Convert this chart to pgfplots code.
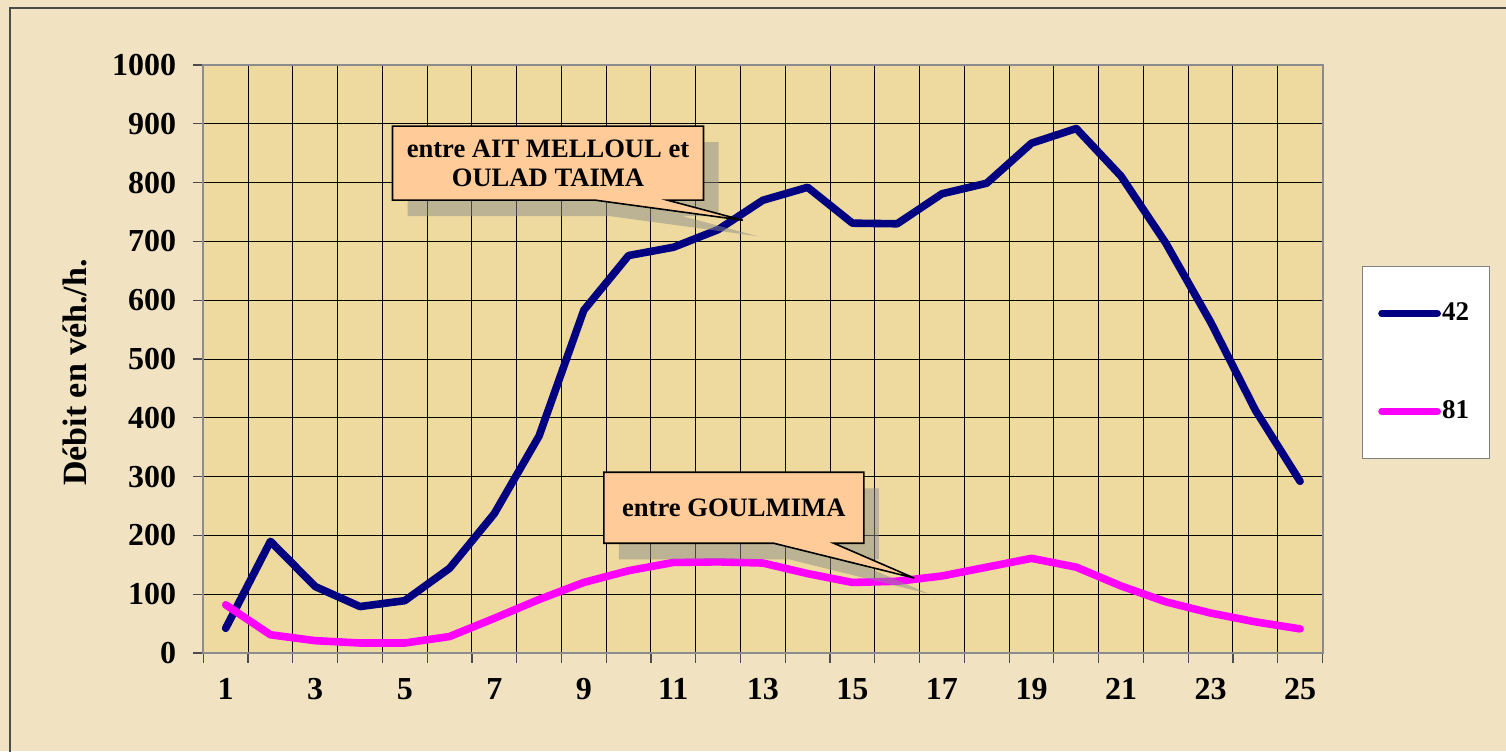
\documentclass[border=0pt]{standalone}
\usepackage{pgfplots}
\pgfplotsset{compat=1.18}
\usepackage{fontspec}
\setmainfont{Liberation Serif}
\usetikzlibrary{shapes.callouts,shadows}
\definecolor{outerbg}{RGB}{241,226,193}
\definecolor{plotbg}{RGB}{238,217,158}
\definecolor{navyline}{RGB}{0,0,128}
\definecolor{magline}{RGB}{255,0,255}
\definecolor{calloutfill}{RGB}{255,204,153}
\pgfplotstableread{
x y
1 42
2 190
3 113
4 79
5 89
6 144
7 237
8 369
9 583
10 676
11 690
12 720
13 770
14 792
15 731
16 730
17 781
18 799
19 867
20 892
21 811
22 697
23 563
24 413
25 292
}\seriesA
\pgfplotstableread{
x y
1 82
2 31
3 21
4 17
5 17
6 28
7 59
8 91
9 120
10 140
11 154
12 155
13 153
14 135
15 120
16 122
17 131
18 146
19 161
20 146
21 114
22 87
23 68
24 53
25 41
}\seriesB
\begin{document}
\begin{tikzpicture}
\path[use as bounding box] (0,0) rectangle (753pt,375.5pt);
\fill[outerbg] (0,0) rectangle (753pt,375.5pt);
\draw[black!70,line width=0.8pt] (5pt,-2pt) -- (5pt,371.5pt) -- (760pt,371.5pt);
\begin{axis}[
  at={(101.65pt,49pt)}, anchor=south west,
  width=559.6pt, height=294pt, scale only axis,
  xmin=0.5, xmax=25.5, ymin=0, ymax=1000,
  xtick={1,3,...,25},
  minor xtick={0.5,1.5,...,25.5},
  ytick={0,100,...,1000},
  tick pos=left,
  xminorgrids=true, ymajorgrids=true,
  grid style={black, line width=0.5pt},
  minor grid style={black, line width=0.5pt},
  tick align=outside,
  major tick length=5pt,
  minor tick length=5pt,
  major x tick style={draw=none},
  minor x tick style={draw=black!70, line width=0.6pt},
  y tick style={draw=black!70, line width=0.6pt},
  axis line style={draw=black!45, line width=1pt},
  axis background/.style={fill=plotbg},
  /pgf/number format/assume math mode=true,
  /pgf/number format/set thousands separator={},
  ticklabel style={font=\fontsize{16}{16}\selectfont\bfseries},
  xticklabel style={yshift=-4pt},
  yticklabel style={xshift=-5pt},
  ylabel={Débit en véh./h.},
  every axis y label/.style={at={(axis description cs:-0.1144,0.477)}, rotate=90, anchor=center, font=\fontsize{17}{17}\selectfont\bfseries},
  legend style={at={(axis description cs:1.0353,0.658)}, anchor=north west, draw=black!50, fill=white,
    inner xsep=8pt, inner ysep=16.25pt, row sep=34.5pt, font=\fontsize{13.5}{13.5}\selectfont\bfseries,
    legend cell align=left},
  legend image code/.code={\path (0pt,0pt) -- (26pt,0pt);\draw[#1,overlay,line cap=round] (0pt,0pt) -- (27.5pt,0pt);},
]
\addplot[navyline, line width=3.8pt, line join=round, line cap=round] table[x=x,y=y] {\seriesA};
\addlegendentry{42}
\addplot[magline, line width=3.8pt, line join=round, line cap=round] table[x=x,y=y] {\seriesB};
\addlegendentry{81}
\node[rectangle callout, draw=black, line width=0.8pt, fill=calloutfill,
  minimum width=155.5pt, minimum height=37pt, align=center, inner sep=2pt,
  font=\fontsize{13.3}{14.5}\selectfont\bfseries,
  callout absolute pointer={(axis cs:12.55,736)}, callout pointer width=36pt,
  drop shadow={shadow xshift=7.5pt, shadow yshift=-8pt, fill=black!45, opacity=0.5}]
  at (axis cs:8.2,833) {entre AIT MELLOUL et\\OULAD TAIMA};
\node[rectangle callout, draw=black, line width=0.8pt, fill=calloutfill,
  minimum width=130pt, minimum height=35.5pt, align=center, inner sep=2pt,
  font=\fontsize{13.3}{14.5}\selectfont\bfseries,
  callout absolute pointer={(axis cs:16.38,127.5)}, callout pointer width=30pt,
  drop shadow={shadow xshift=7.5pt, shadow yshift=-8pt, fill=black!45, opacity=0.5}]
  at (axis cs:12.35,247) {entre GOULMIMA};
\end{axis}
\end{tikzpicture}
\end{document}
